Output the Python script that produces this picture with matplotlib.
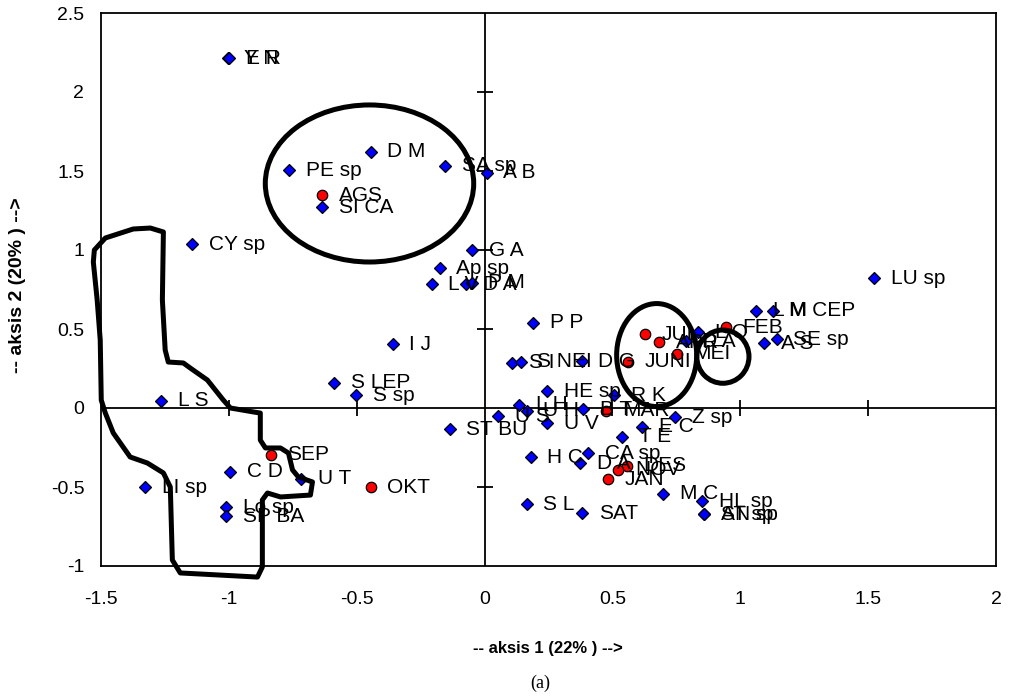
import numpy as np
import matplotlib
matplotlib.use("Agg")
import matplotlib.pyplot as plt
from matplotlib.patches import Ellipse, Polygon

plt.rcParams['font.family'] = ['Liberation Sans', 'DejaVu Sans']

# species scores (blue diamonds)
species = ["Y N", "E R", "D M", "PE sp", "SA sp", "A B", "SI CA", "CY sp", "G A",
           "Ap sp", "L V", "D A", "P M", "P P", "I J", "S LEP", "S sp", "L S",
           "S I", "S NEI", "D G", "HE sp", "R K", "L H", "U H", "U S", "ST BU",
           "U V", "B T", "E C", "Z sp", "T E", "CA sp", "D A", "H C", "M C",
           "HL sp", "AT sp", "SN sp", "SAT", "S L", "C D", "U T", "LI sp",
           "Lo sp", "SP BA", "LU sp", "L M", "M CEP", "A S", "SE sp", "D A", "L O"]
species_ax1 = [-1.005, -1.0, -0.446, -0.763, -0.153, 0.008, -0.635, -1.144, -0.048,
               -0.175, -0.207, -0.072, -0.051, 0.19, -0.359, -0.587, -0.501, -1.264,
               0.108, 0.141, 0.38, 0.245, 0.506, 0.134, 0.164, 0.054, -0.136,
               0.245, 0.386, 0.617, 0.745, 0.539, 0.406, 0.373, 0.18, 0.699,
               0.85, 0.858, 0.858, 0.382, 0.164, -0.994, -0.716, -1.328,
               -1.011, -1.011, 1.524, 1.061, 1.126, 1.093, 1.142, 0.787, 0.835]
species_ax2 = [2.213, 2.213, 1.622, 1.506, 1.534, 1.49, 1.27, 1.036, 1.0,
               0.884, 0.783, 0.783, 0.793, 0.54, 0.403, 0.16, 0.082, 0.046,
               0.287, 0.293, 0.297, 0.105, 0.08, 0.019, -0.017, -0.051, -0.135,
               -0.097, -0.008, -0.118, -0.059, -0.182, -0.287, -0.35, -0.312, -0.544,
               -0.589, -0.671, -0.671, -0.667, -0.608, -0.403, -0.449, -0.502,
               -0.629, -0.684, 0.821, 0.616, 0.616, 0.41, 0.435, 0.424, 0.479]

# sampling months (red circles)
months = ["AGS", "SEP", "OKT", "JUL", "APR", "JUNI", "MEI", "FEB", "MAR", "DES", "NOV", "JAN"]
months_ax1 = [-0.635, -0.836, -0.446, 0.626, 0.682, 0.562, 0.751, 0.943, 0.476, 0.556, 0.523, 0.484]
months_ax2 = [1.348, -0.297, -0.502, 0.468, 0.416, 0.293, 0.342, 0.511, -0.017, -0.367, -0.392, -0.451]

# hand-drawn grouping outline on the left
outline = [(-1.256, 1.114), (-1.307, 1.139), (-1.374, 1.133), (-1.483, 1.076), (-1.526, 1.0),
           (-1.530, 0.924), (-1.515, 0.684), (-1.503, 0.43), (-1.499, 0.05), (-1.483, -0.032),
           (-1.452, -0.158), (-1.386, -0.31), (-1.319, -0.348), (-1.256, -0.411), (-1.229, -0.5),
           (-1.221, -0.962), (-1.19, -1.044), (-0.888, -1.07), (-0.869, -1.006), (-0.869, -0.582),
           (-0.849, -0.538), (-0.798, -0.563), (-0.681, -0.551), (-0.673, -0.468), (-0.728, -0.437),
           (-0.751, -0.392), (-0.767, -0.285), (-0.798, -0.253), (-0.857, -0.253), (-0.877, -0.203),
           (-0.877, -0.032), (-0.904, -0.025), (-0.994, 0.0), (-1.022, 0.051), (-1.084, 0.177),
           (-1.151, 0.253), (-1.178, 0.285), (-1.237, 0.291), (-1.249, 0.367), (-1.260, 0.684)]

# grouping ellipses: (center x, center y, width, height)
groups = [(-0.45, 1.421, 0.815, 0.994),
          (0.673, 0.335, 0.313, 0.652),
          (0.932, 0.325, 0.204, 0.337)]

ticks_x = np.arange(-1.5, 2.01, 0.5)
ticks_y = np.arange(-1.0, 2.51, 0.5)


def draw_points(ax, xs, ys, labels, marker, color, size):
    ax.plot(xs, ys, ls="none", marker=marker, ms=size, mfc=color, mec="black",
            mew=0.9, zorder=3)
    for x, y, lab in zip(xs, ys, labels):
        ax.annotate(lab, (x, y), xytext=(12, 0), textcoords="offset points",
                    va="center", ha="left", fontsize=15, zorder=4)


def main():
    fig = plt.figure(figsize=(10.1, 7), dpi=100)
    ax = fig.add_axes([101 / 1010, 1 - 566 / 700, 895 / 1010, 553 / 700])
    ax.set_xlim(-1.5, 2)
    ax.set_ylim(-1, 2.5)

    for s in ax.spines.values():
        s.set_linewidth(1.3)
        s.set_color("black")

    ax.set_xticks(ticks_x)
    ax.set_xticklabels([f"{v:g}" for v in ticks_x])
    ax.set_yticks(ticks_y)
    ax.set_yticklabels([f"{v:g}" for v in ticks_y])
    ax.tick_params(axis="x", length=0, pad=18, labelsize=14)
    ax.tick_params(axis="y", length=0, pad=12, labelsize=14)

    # axes through the origin with cross ticks
    ax.axhline(0, color="black", lw=1.3, zorder=1)
    ax.axvline(0, color="black", lw=1.3, zorder=1)
    inner_x = [v for v in ticks_x if -1.5 < v < 2 and v != 0]
    inner_y = [v for v in ticks_y if -1 < v < 2.5 and v != 0]
    ax.plot(inner_x, np.zeros(len(inner_x)), ls="none", marker="|", ms=11,
            mew=1.3, color="black", zorder=1)
    ax.plot(np.zeros(len(inner_y)), inner_y, ls="none", marker="_", ms=11,
            mew=1.3, color="black", zorder=1)

    draw_points(ax, species_ax1, species_ax2, species, "D", "#0000FF", 6.5)
    draw_points(ax, months_ax1, months_ax2, months, "o", "#FF0000", 7.5)

    ax.add_patch(Polygon(outline, closed=True, fill=False, ec="black", lw=3.6,
                         joinstyle="round", clip_on=False, zorder=5))
    for cx, cy, w, h in groups:
        ax.add_patch(Ellipse((cx, cy), w, h, fill=False, ec="black", lw=3.6, zorder=5))

    fig.text(548 / 1010, 1 - 648 / 700, "-- aksis 1 (22% ) -->", ha="center",
             va="center", fontsize=12, fontweight="bold")
    fig.text(18 / 1010, 1 - 285 / 700, "-- aksis 2 (20% ) -->", ha="center",
             va="center", rotation=90, fontsize=14, fontweight="bold")
    fig.text(540 / 1010, 1 - 683 / 700, "(a)", ha="center", va="center",
             fontsize=13, family="Liberation Serif")

    fig.savefig("out.png", dpi=100)


if __name__ == "__main__":
    main()
